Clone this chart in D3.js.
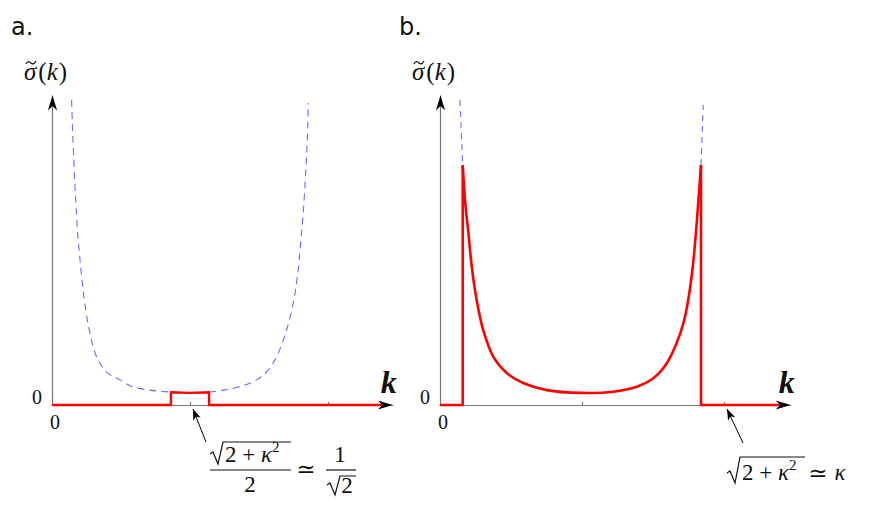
<!DOCTYPE html>
<html>
<head>
<meta charset="utf-8">
<script src="https://cdn.jsdelivr.net/npm/d3@7"></script>
<style>
  body { margin: 0; background: #fff; }
  .math { font-family: "Liberation Serif", "DejaVu Serif", serif; fill: #111; }
  .panel-tag { font-family: "DejaVu Sans", sans-serif; font-size: 24px; fill: #111; }
</style>
</head>
<body>
<div class="chart"></div>
<script>
//k in units of sqrt(2+kappa^2), sigma in units of the y axis length
const kTicks = [0.5, 1];
const kAxisEnd = 1.235;
const kRedEnd = 1.21;

//panel a: dashed curve
const dashAK = [0.071, 0.075, 0.080, 0.086, 0.093, 0.104, 0.117, 0.135, 0.162, 0.198, 0.246, 0.295, 0.355, 0.428, 0.5,
                0.566, 0.621, 0.681, 0.742, 0.784, 0.820, 0.850, 0.874, 0.889, 0.901, 0.911, 0.919, 0.925, 0.929];
const dashAV = [0.984, 0.877, 0.768, 0.661, 0.555, 0.445, 0.339, 0.242, 0.155, 0.106, 0.081, 0.058, 0.048, 0.042, 0.039,
                0.041, 0.048, 0.059, 0.081, 0.113, 0.168, 0.242, 0.329, 0.413, 0.523, 0.629, 0.748, 0.855, 0.974];
//panel a: red (narrow band)
const redAK = [0, 0.431, 0.431, 0.5, 0.569, 0.569, kRedEnd];
const redAV = [0, 0, 0.041, 0.039, 0.041, 0, 0];

//panel b: red curve between band edges
const redBK = [0.080, 0.088, 0.100, 0.112, 0.129, 0.152, 0.188, 0.235, 0.293, 0.376, 0.5,
               0.610, 0.693, 0.751, 0.798, 0.833, 0.857, 0.874, 0.890, 0.901, 0.910, 0.919];
const redBV = [0.774, 0.661, 0.555, 0.445, 0.339, 0.242, 0.155, 0.103, 0.071, 0.048, 0.039,
               0.043, 0.059, 0.086, 0.134, 0.199, 0.264, 0.339, 0.446, 0.554, 0.661, 0.774];
//panel b: dashed continuation above the edges
const dashBLeftK = [0.070, 0.080];
const dashBLeftV = [0.984, 0.774];
const dashBRightK = [0.919, 0.927];
const dashBRightV = [0.774, 0.968];

const svg_width = 872;
const svg_height = 508;
const svg = d3.select('.chart').append('svg')
    .attr('width', svg_width).attr('height', svg_height);

//arrow heads
const defs = svg.append('defs');
defs.append('marker').attr('id', 'axisHead')
    .attr('markerUnits', 'userSpaceOnUse').attr('orient', 'auto')
    .attr('markerWidth', 20).attr('markerHeight', 14)
    .attr('viewBox', '-16 -7 20 14').attr('refX', 0).attr('refY', 0)
    .append('path').attr('d', 'M0,0 L-15,-4.6 L-10.5,0 L-15,4.6 Z').attr('fill', '#000');
defs.append('marker').attr('id', 'noteHead')
    .attr('markerUnits', 'userSpaceOnUse').attr('orient', 'auto')
    .attr('markerWidth', 14).attr('markerHeight', 12)
    .attr('viewBox', '-12 -6 14 12').attr('refX', 0).attr('refY', 0)
    .append('path').attr('d', 'M0,0 L-11,-4 L-8,0 L-11,4 Z').attr('fill', '#000');

const y_scale = d3.scaleLinear([0, 1], [405, 95]);

function zip(ks, vs) {
    return ks.map((k, i) => [k, vs[i]]);
}

//axes, labels for one panel
function setupPanel(x0, unit, tag) {
    const x_scale = d3.scaleLinear([0, kAxisEnd], [x0, x0 + unit * kAxisEnd]);
    const g = svg.append('g');

    const xAxis = d3.axisBottom(x_scale).tickValues(kTicks).tickSizeInner(-3).tickSizeOuter(0).tickFormat('');
    g.append('g').attr('transform', `translate(0,${y_scale(0)})`).call(xAxis)
        .call(a => a.selectAll('path, line').attr('stroke', '#777').attr('stroke-width', 1.2));

    const yAxis = d3.axisLeft(y_scale).tickValues([]).tickSizeOuter(0);
    g.append('g').attr('transform', `translate(${x0},0)`).call(yAxis)
        .call(a => a.select('.domain').attr('stroke', '#777').attr('stroke-width', 1.2)
            .attr('marker-end', 'url(#axisHead)'));

    //panel letter
    g.append('text').attr('class', 'panel-tag').attr('x', x0 - 41).attr('y', 35).text(tag);

    //sigma tilde (k)
    const lab = g.append('text').attr('class', 'math').attr('x', x0 - 28).attr('y', 80).style('font-size', '25px');
    lab.append('tspan').style('font-style', 'italic').text('σ');
    lab.append('tspan').attr('dx', 2).text('(');
    lab.append('tspan').style('font-style', 'italic').text('k');
    lab.append('tspan').attr('dx', 1).text(')');
    const tx = x0 - 26, ty = 63;
    g.append('path')
        .attr('d', `M${tx},${ty + 1} C${tx + 2},${ty - 3} ${tx + 4},${ty - 1} ${tx + 5},${ty} S${tx + 8},${ty + 2} ${tx + 10},${ty - 2}`)
        .attr('fill', 'none').attr('stroke', '#111').attr('stroke-width', 1.1);

    //zeros
    g.append('text').attr('class', 'math').attr('x', x0 - 15).attr('y', 404)
        .attr('text-anchor', 'middle').style('font-size', '20px').text('0');
    g.append('text').attr('class', 'math').attr('x', x0 + 3).attr('y', 429)
        .attr('text-anchor', 'middle').style('font-size', '20px').text('0');

    //k label
    g.append('text').attr('class', 'math').attr('x', x_scale(kAxisEnd) - 12).attr('y', 393)
        .style('font-size', '32px').style('font-style', 'italic').style('font-weight', 'bold').text('k');

    return { g, x_scale };
}

//axis arrow drawn on top of the red line
function axisTip(g, x_scale) {
    g.append('line')
        .attr('x1', x_scale(kAxisEnd) - 2).attr('x2', x_scale(kAxisEnd))
        .attr('y1', y_scale(0)).attr('y2', y_scale(0))
        .attr('stroke', 'none').attr('marker-end', 'url(#axisHead)');
}

function noteArrow(g, x_scale, k, dx, dy) {
    const tx = x_scale(k) + 3, ty = y_scale(0) + 4;
    g.append('line').attr('x1', tx + dx).attr('y1', ty + dy).attr('x2', tx).attr('y2', ty)
        .attr('stroke', '#000').attr('stroke-width', 1).attr('marker-end', 'url(#noteHead)');
}

function radical(g, x, top, bottom, end) {
    const mid = bottom - 10;
    g.append('path')
        .attr('d', `M${x},${mid} L${x + 3},${mid - 2} L${x + 8},${bottom} L${x + 13},${top} L${end},${top}`)
        .attr('fill', 'none').attr('stroke', '#111').attr('stroke-width', 1.2);
}

function drawLine(g, pts, x_scale, curve, color, width, dash) {
    const line = d3.line().x(d => x_scale(d[0])).y(d => y_scale(d[1])).curve(curve);
    const p = g.append('path').datum(pts).attr('d', line)
        .attr('fill', 'none').attr('stroke', color).attr('stroke-width', width)
        .attr('stroke-linejoin', 'miter');
    if (dash) p.attr('stroke-dasharray', dash);
    return p;
}

//===== panel a =====
const pa = setupPanel(52, 276, 'a.');
drawLine(pa.g, zip(dashAK, dashAV), pa.x_scale, d3.curveCatmullRom, '#6b6bff', 1.1, '7,5');
drawLine(pa.g, zip(redAK, redAV), pa.x_scale, d3.curveLinear, '#ff0000', 2.4);
axisTip(pa.g, pa.x_scale);
noteArrow(pa.g, pa.x_scale, kTicks[0], 13, 33);

//annotation a: sqrt(2+k^2)/2 ~ 1/sqrt(2)
const na = pa.g.append('g').attr('class', 'math');
const ax = pa.x_scale(kTicks[0]);
radical(na, ax + 20, 442, 464, ax + 101);
const numA = na.append('text').attr('x', ax + 35).attr('y', 462).style('font-size', '23px');
numA.append('tspan').text('2 + ');
numA.append('tspan').style('font-style', 'italic').text('κ');
numA.append('tspan').attr('dy', -10).style('font-size', '15px').text('2');
na.append('line').attr('x1', ax + 20).attr('x2', ax + 101).attr('y1', 470).attr('y2', 470)
    .attr('stroke', '#111').attr('stroke-width', 1.2);
na.append('text').attr('x', ax + 60).attr('y', 492).attr('text-anchor', 'middle').style('font-size', '23px').text('2');
na.append('text').attr('x', ax + 116).attr('y', 477).attr('text-anchor', 'middle').style('font-size', '23px').text('≃');
na.append('text').attr('x', ax + 150).attr('y', 462).attr('text-anchor', 'middle').style('font-size', '23px').text('1');
na.append('line').attr('x1', ax + 136).attr('x2', ax + 166).attr('y1', 470).attr('y2', 470)
    .attr('stroke', '#111').attr('stroke-width', 1.2);
radical(na, ax + 137, 476, 495, ax + 166);
na.append('text').attr('x', ax + 157).attr('y', 493).attr('text-anchor', 'middle').style('font-size', '23px').text('2');

//===== panel b =====
const pb = setupPanel(440, 284, 'b.');
drawLine(pb.g, zip(dashBLeftK, dashBLeftV), pb.x_scale, d3.curveLinear, '#6b6bff', 1.1, '6,5');
drawLine(pb.g, zip(dashBRightK, dashBRightV), pb.x_scale, d3.curveLinear, '#6b6bff', 1.1, '6,5');
const edgeL = redBK[0], edgeR = redBK[redBK.length - 1];
drawLine(pb.g, [[0, 0], [edgeL, 0], [edgeL, redBV[0]]], pb.x_scale, d3.curveLinear, '#ff0000', 2.6);
drawLine(pb.g, zip(redBK, redBV), pb.x_scale, d3.curveCatmullRom, '#ff0000', 2.6);
drawLine(pb.g, [[edgeR, redBV[redBV.length - 1]], [edgeR, 0], [kRedEnd, 0]], pb.x_scale, d3.curveLinear, '#ff0000', 2.6);
axisTip(pb.g, pb.x_scale);
noteArrow(pb.g, pb.x_scale, kTicks[1], 16, 34);

//annotation b: sqrt(2+k^2) ~ k
const nb = pb.g.append('g').attr('class', 'math');
const bx = pb.x_scale(kTicks[1]);
radical(nb, bx + 3, 457, 483, bx + 81);
const numB = nb.append('text').attr('x', bx + 18).attr('y', 480).style('font-size', '23px');
numB.append('tspan').text('2 + ');
numB.append('tspan').style('font-style', 'italic').text('κ');
numB.append('tspan').attr('dy', -10).style('font-size', '15px').text('2');
nb.append('text').attr('x', bx + 94).attr('y', 481).attr('text-anchor', 'middle').style('font-size', '23px').text('≃');
nb.append('text').attr('x', bx + 116).attr('y', 480).attr('text-anchor', 'middle')
    .style('font-size', '23px').style('font-style', 'italic').text('κ');
</script>
</body>
</html>
